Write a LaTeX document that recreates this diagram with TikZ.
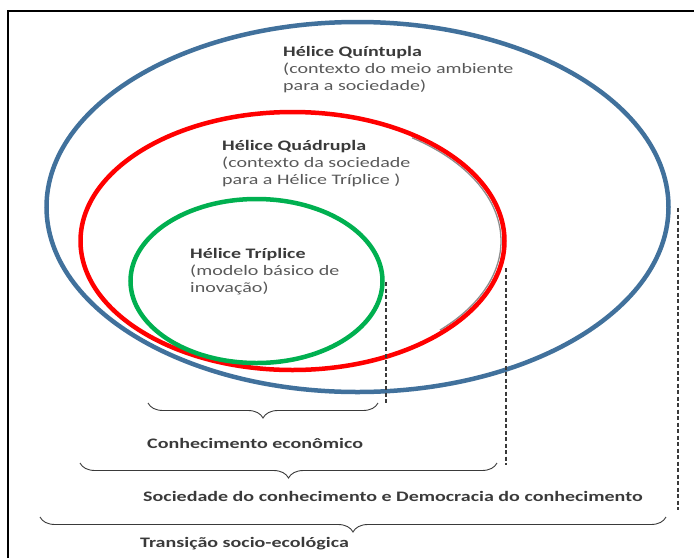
\documentclass[tikz,border=0pt]{standalone}
\usepackage{fontspec}
\setmainfont{Carlito}[FakeStretch=1.38]
\usepackage{xcolor}
\usepackage{tikz}
\usetikzlibrary{decorations.pathreplacing}
\definecolor{quint}{HTML}{41719C}
\definecolor{quad}{HTML}{FF0000}
\definecolor{trip}{HTML}{00B050}
\definecolor{ink}{HTML}{3A3A3A}
\definecolor{muted}{HTML}{595959}
\tikzset{
  helix/.style={line width=4.5pt},
  shade/.style={draw=black!45, line width=1.3pt},
  guide/.style={draw=ink, line width=1.1pt, dash pattern=on 4pt off 2.5pt},
  curly/.style={draw=ink, line width=0.9pt, decorate, decoration={brace, mirror, amplitude=15pt}},
  blurb/.style={text=muted, font=\fontsize{14.5}{17}\selectfont, align=left, anchor=north west, inner sep=0pt},
  lab/.style={text=ink, font=\bfseries\fontsize{14.5}{17}\selectfont, anchor=west, inner sep=0pt},
}
\newcommand{\hd}[1]{{\bfseries\color{ink}#1}}

\begin{document}
\begin{tikzpicture}[x=1pt,y=-1pt]
  \useasboundingbox (0,0) rectangle (694,558);
  % frame
  \draw[line width=1.4pt] (8,558) -- (8,11) -- (694,11);
  % helices
  \draw[helix, draw=quint] (357.5,207) ellipse [x radius=311, y radius=185];
  \draw[shade] (292.5,241) ++(-55:208.5 and 126) arc [start angle=-55, end angle=45, x radius=208.5, y radius=126];
  \draw[helix, draw=quad] (292.5,241) ellipse [x radius=212, y radius=129];
  \draw[helix, draw=trip] (256.5,281) ellipse [x radius=126, y radius=82];
  \node[blurb] (quinttxt) at (283,46) {\hd{Hélice Quíntupla}\\(contexto do meio ambiente\\para a sociedade)};
  \node[blurb] (quadtxt) at (222,140) {\hd{Hélice Quádrupla}\\(contexto da sociedade\\para a Hélice Tríplice )};
  \node[blurb] (triptxt) at (190,248) {\hd{Hélice Tríplice}\\(modelo básico de\\inovação)};
  % guides
  \foreach \gx/\gtop/\gbot in {386/282/404, 506/268/465, 678/208/510}
    \draw[guide] (\gx,\gtop) -- (\gx,\gbot);
  % braces
  \draw[curly] (148,403) -- (378,403);
  \draw[curly] (80,463) -- (497,463);
  \draw[curly] (40,517) -- (666,517);
  \node[lab] (econ) at (147,443) {Conhecimento econômico};
  \node[lab] (soc) at (143,496) {Sociedade do conhecimento e Democracia do conhecimento};
  \node[lab] (trans) at (140,544) {Transição socio-ecológica};
\end{tikzpicture}
\end{document}
